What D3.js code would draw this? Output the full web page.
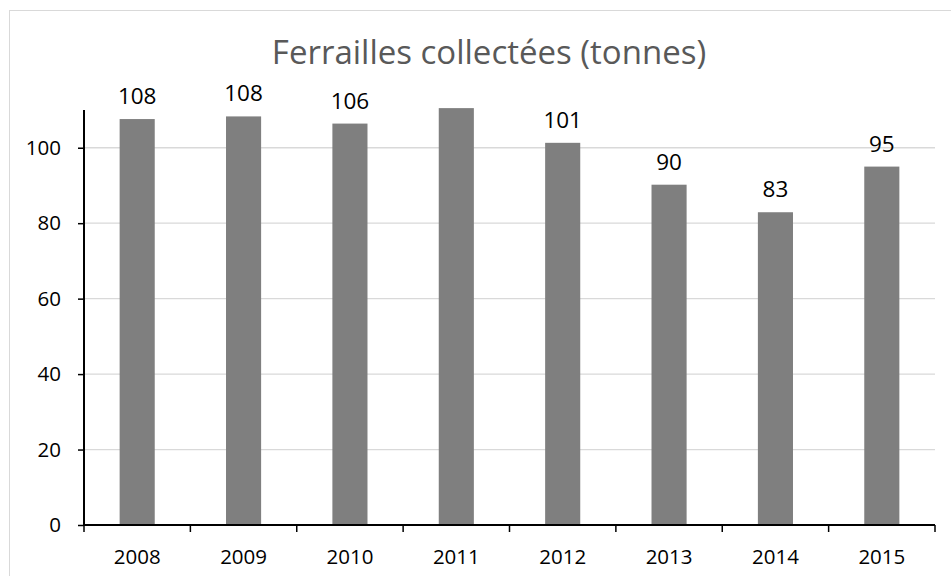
<!DOCTYPE html>
<meta charset="utf-8">
<style>
body { margin: 0; background: #fff; }
text { font-family: "Open Sans", "Noto Sans", sans-serif; }
.grid line { stroke: #d9d9d9; stroke-width: 1.3px; }
.bar { fill: #7f7f7f; }
</style>
<body>
<script src="https://d3js.org/d3.v7.min.js"></script>
<script>

// data
var years = ["2008", "2009", "2010", "2011", "2012", "2013", "2014", "2015"];
var tonnes = [107.6, 108.3, 106.4, 110.5, 101.3, 90.2, 82.9, 95.0];
var labelled = [true, true, true, false, true, true, true, true];
var yTicks = [0, 20, 40, 60, 80, 100];
var title = "Ferrailles collectées (tonnes)";

var data = years.map(function(y, i) {
  return {year: y, value: tonnes[i], label: labelled[i]};
});

// plot area
var plot = {left: 84, right: 935, top: 110, bottom: 525};

var svg = d3.select("body").append("svg")
    .attr("width", 951)
    .attr("height", 576);

// chart frame
svg.append("rect")
    .attr("x", 9.5).attr("y", 10.5)
    .attr("width", 960).attr("height", 600)
    .attr("fill", "#fff")
    .attr("stroke", "#d9d9d9");

var x = d3.scaleBand().domain(years).range([plot.left, plot.right]);
var y = d3.scaleLinear().domain([0, 110]).range([plot.bottom, plot.top]);
var barW = x.bandwidth() * 0.33;

// gridlines
svg.append("g")
    .attr("class", "grid")
  .selectAll("line")
  .data(yTicks.filter(function(d) { return d > 0; }))
  .enter().append("line")
    .attr("x1", plot.left).attr("x2", plot.right)
    .attr("y1", function(d) { return y(d); })
    .attr("y2", function(d) { return y(d); });

// bars
svg.selectAll(".bar")
    .data(data)
  .enter().append("rect")
    .attr("class", "bar")
    .attr("x", function(d) { return x(d.year) + (x.bandwidth() - barW) / 2; })
    .attr("width", barW)
    .attr("y", function(d) { return y(d.value); })
    .attr("height", function(d) { return y(0) - y(d.value); });

// data labels (2011 is cut off in the original)
svg.selectAll(".lbl")
    .data(data.filter(function(d) { return d.label; }))
  .enter().append("text")
    .attr("class", "lbl")
    .attr("x", function(d) { return x(d.year) + x.bandwidth() / 2; })
    .attr("y", function(d) { return y(d.value) - 15; })
    .attr("text-anchor", "middle")
    .attr("font-size", "22.5px")
    .attr("fill", "#000")
    .text(function(d) { return Math.round(d.value); });

// y axis
var yAxis = svg.append("g")
    .attr("transform", "translate(" + plot.left + ",0)")
    .call(d3.axisLeft(y).tickValues(yTicks).tickSize(6).tickPadding(17));
yAxis.select(".domain").attr("stroke", "#000").attr("stroke-width", 2)
    .attr("d", "M0," + plot.bottom + "V" + plot.top);
yAxis.selectAll(".tick line").attr("stroke", "#000").attr("stroke-width", 1.5);
yAxis.selectAll(".tick text").attr("font-size", "20.5px").attr("fill", "#000")
    .style("font-family", "'Open Sans', sans-serif");

// x axis
var xAxis = svg.append("g")
    .attr("transform", "translate(0," + plot.bottom + ")")
    .call(d3.axisBottom(x).tickSize(0).tickPadding(24));
xAxis.select(".domain").attr("stroke", "#000").attr("stroke-width", 2)
    .attr("d", "M" + plot.left + ",0H" + plot.right);
xAxis.selectAll(".tick text").attr("font-size", "20.5px").attr("fill", "#000")
    .style("font-family", "'Open Sans', sans-serif");
// ticks on band edges
xAxis.selectAll(".edge")
    .data(years.map(function(d) { return x(d); }).concat([plot.right]))
  .enter().append("line")
    .attr("x1", function(d) { return d; })
    .attr("x2", function(d) { return d; })
    .attr("y1", 0).attr("y2", 7)
    .attr("stroke", "#000").attr("stroke-width", 1.5);

// title
svg.append("text")
    .attr("x", 489)
    .attr("y", 64)
    .attr("text-anchor", "middle")
    .attr("font-size", "33px")
    .attr("fill", "#595959")
    .text(title);

</script>
</body>
